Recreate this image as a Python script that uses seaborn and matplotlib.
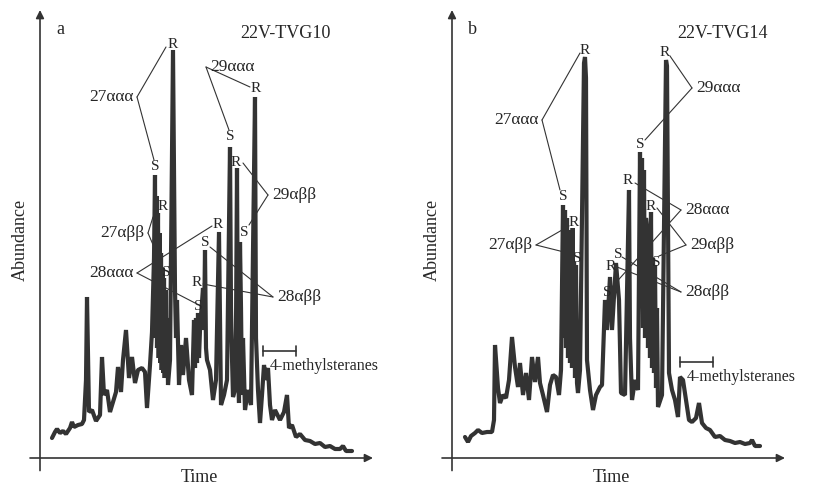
import numpy as np
import pandas as pd
import seaborn as sns
import matplotlib.pyplot as plt

# retention time / abundance (arbitrary units)
time_a = [12, 15, 17, 20, 23, 26, 30, 32, 34, 38, 42, 44, 46, 47, 49, 52, 56, 60, 62, 64,
          67, 70, 73, 76, 78, 81, 83, 86, 89, 92, 95, 98, 102, 105, 107, 110, 112, 114, 115, 115.7,
          116.5, 117, 118, 118.7, 119.5, 120.2, 121, 121.7, 122.5, 123.2, 124, 124.7, 125.5, 126.3, 127, 128,
          130, 133, 135, 136, 137, 139, 141, 143, 146, 149, 152, 154, 155, 156, 157, 158, 159, 160, 163, 164,
          165, 166, 167, 170, 173, 176, 179, 181, 184, 187, 190, 191, 192, 193, 195, 196, 197, 198, 199, 200,
          201, 202, 203, 205, 208, 211, 215, 216, 218, 220, 222, 224, 226, 228, 230, 232, 235, 240, 244, 247,
          249, 252, 256, 260, 265, 270, 275, 280, 285, 290, 295, 300, 303, 306, 312]
abund_a = [20, 26, 29, 25, 27, 24, 30, 36, 31, 33, 34, 38, 78, 161, 46, 48, 37, 43, 101, 63,
           68, 46, 56, 66, 91, 66, 98, 128, 80, 101, 75, 88, 90, 86, 50, 93, 126, 200, 283, 120,
           262, 110, 245, 100, 225, 95, 205, 88, 190, 85, 180, 80, 168, 110, 140, 73,
           98, 408, 168, 120, 158, 73, 113, 83, 120, 78, 63, 138, 90, 140, 95, 145, 100, 128, 170, 128,
           208, 110, 98, 88, 58, 78, 226, 53, 63, 78, 311, 150, 100, 61, 68, 130, 290, 90, 55, 216,
           150, 63, 120, 48, 68, 53, 361, 120, 68, 35, 63, 93, 78, 90, 53, 38, 48, 38, 46, 63,
           30, 33, 21, 24, 18, 17, 14, 15, 11, 12, 9, 9, 12, 7, 7]

time_b = [13, 16, 19, 23, 26, 30, 35, 40, 42, 43, 46, 48, 51, 54, 57, 60, 63, 66, 68, 71,
          74, 77, 80, 83, 86, 88, 91, 95, 98, 101, 104, 107, 109, 111, 112, 113, 114, 115, 116, 117,
          118, 119, 120, 120.7, 121.5, 122, 123, 124, 125, 126, 128, 132, 133, 134, 135, 138, 141, 144, 148, 150,
          153, 155, 158, 160, 164, 167, 169, 173, 177, 178, 180, 183, 186, 188, 189, 190, 191, 192, 193, 194,
          195, 196, 197, 198, 199, 200, 201, 202, 203, 204, 205, 206, 210, 214, 215, 217, 220, 223, 226, 228,
          231, 234, 237, 240, 244, 247, 250, 254, 258, 263, 268, 273, 278, 283, 288, 293, 298, 300, 303, 308]
abund_b = [21, 16, 22, 25, 28, 25, 26, 26, 38, 113, 70, 55, 63, 60, 78, 121, 91, 71, 95, 63,
           85, 58, 101, 76, 101, 75, 63, 46, 73, 83, 81, 63, 88, 253, 120, 248, 110, 240, 100, 225,
           95, 228, 90, 230, 100, 196, 80, 193, 75, 65, 88, 395, 401, 380, 98, 68, 48, 63, 71, 73,
           158, 128, 181, 128, 195, 158, 65, 63, 268, 120, 58, 78, 68, 306, 150, 300, 130, 288, 120, 240,
           231, 110, 200, 100, 246, 90, 200, 85, 193, 70, 150, 51, 63, 398, 392, 85, 68, 58, 41, 81,
           78, 58, 38, 36, 40, 55, 35, 30, 28, 21, 22, 18, 17, 15, 16, 14, 15, 18, 12, 12]

# compound labels: (text, label x, label y, [(target x, target y), ...])
groups_a = [
    ("27ααα", 71, 361, [(126, 411), (114, 298)]),
    ("29ααα", 192, 391, [(189, 328), (210, 371)]),
    ("29αββ", 254, 263, [(203, 295), (209, 233)]),
    ("27αββ", 82, 225, [(113, 241), (123, 190)]),
    ("28ααα", 71, 185, [(172, 232), (155, 155)]),
    ("28αββ", 259, 161, [(170, 211), (163, 174)]),
]
peaks_a = [("R", 133, 414), ("S", 115, 292), ("R", 216, 369), ("S", 190, 321),
           ("R", 196, 296), ("S", 204, 225), ("R", 123, 251), ("S", 126, 185),
           ("R", 178, 233), ("S", 158, 152), ("S", 165, 216), ("R", 157, 176)]

groups_b = [
    ("27ααα", 64, 338, [(128, 405), (108, 268)]),
    ("29ααα", 266, 370, [(218, 402), (193, 318)]),
    ("27αββ", 58, 213, [(117, 232), (120, 204)]),
    ("28ααα", 255, 248, [(183, 275), (160, 171)]),
    ("29αββ", 260, 213, [(205, 250), (207, 202)]),
    ("28αββ", 255, 166, [(165, 191), (170, 201)]),
]
peaks_b = [("R", 133, 408), ("S", 111, 262), ("R", 213, 406), ("S", 188, 314),
           ("R", 122, 235), ("S", 125, 200), ("R", 176, 277), ("S", 155, 166),
           ("R", 199, 252), ("S", 204, 196), ("R", 159, 192), ("S", 166, 203)]

sns.set_theme(style="white")
plt.rcParams["font.family"] = ["Liberation Serif", "DejaVu Serif"]

W, H = 817, 488
fig = plt.figure(figsize=(W / 100, H / 100), dpi=100)

ink = "#333333"


def panel(left_px, letter, sample, t, a, groups, peaks, methyl_x, methyl_y):
    ax = fig.add_axes([left_px / W, (H - 458) / H, 333 / W, 448 / H])
    df = pd.DataFrame({"time": t, "abundance": a})
    sns.lineplot(data=df, x="time", y="abundance", sort=False, estimator=None,
                 color=ink, lw=3.0, ax=ax, solid_joinstyle="bevel")
    ax.set_xlim(0, 333)
    ax.set_ylim(0, 448)
    ax.axis("off")

    # axes arrows
    ax.annotate("", xy=(0, 1.0), xytext=(0, -0.028), xycoords="axes fraction",
                arrowprops=dict(arrowstyle="-|>", color=ink, lw=1.2, mutation_scale=12,
                                shrinkA=0, shrinkB=0))
    ax.annotate("", xy=(1.0, 0), xytext=(-0.03, 0), xycoords="axes fraction",
                arrowprops=dict(arrowstyle="-|>", color=ink, lw=1.2, mutation_scale=12,
                                shrinkA=0, shrinkB=0))

    ax.text(20, 428, letter, fontsize=13, ha="center", va="center")
    ax.text(sample[1], 425, sample[0], fontsize=13, ha="center", va="center")
    ax.text(-20, 218, "Abundance", fontsize=13, rotation=90, ha="center", va="center")
    ax.text(159, -20, "Time", fontsize=13, ha="center", va="center", clip_on=False)

    for name, lx, ly, targets in groups:
        ax.text(lx, ly, name, fontsize=12.5, ha="center", va="center")
        edge = lx + 26 if targets[0][0] > lx else lx - 26
        for tx, ty in targets:
            ax.plot([edge, tx], [ly, ty], color=ink, lw=0.8)
    for s, px, py in peaks:
        ax.text(px, py, s, fontsize=11, ha="center", va="center")

    # 4-methylsteranes range bar
    ax.plot([methyl_x, methyl_x + 33], [methyl_y, methyl_y], color=ink, lw=1.2)
    for ex in (methyl_x, methyl_x + 33):
        ax.plot([ex, ex], [methyl_y - 5, methyl_y + 5], color=ink, lw=1.2)
    ax.text(methyl_x + 7, methyl_y - 15, "4-methylsteranes", fontsize=11.5, ha="left", va="center")
    return ax


panel(40, "a", ("22V-TVG10", 245), time_a, abund_a, groups_a, peaks_a, 223, 107)
panel(452, "b", ("22V-TVG14", 270), time_b, abund_b, groups_b, peaks_b, 228, 96)

fig.savefig("out.png", dpi=100)
